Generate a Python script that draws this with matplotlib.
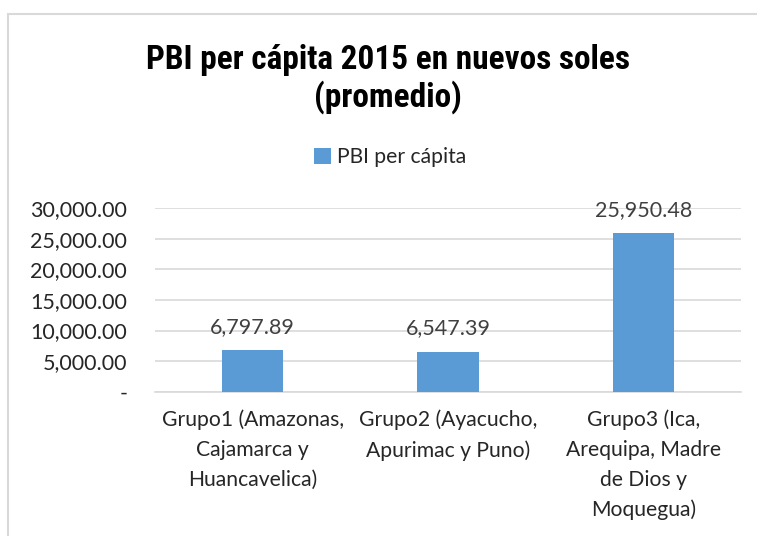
import matplotlib
matplotlib.use("Agg")
import matplotlib.pyplot as plt
from matplotlib.patches import Rectangle
from matplotlib.ticker import FuncFormatter
from matplotlib import font_manager

categories = ["Grupo1 (Amazonas,\nCajamarca y\nHuancavelica)",
              "Grupo2 (Ayacucho,\nApurimac y Puno)",
              "Grupo3 (Ica,\nArequipa, Madre\nde Dios y\nMoquegua)"]
values = [6797.89, 6547.39, 25950.48]
series_name = "PBI per cápita"
title = "PBI per cápita 2015 en nuevos soles\n(promedio)"
yticks = [0, 5000, 10000, 15000, 20000, 25000, 30000]

W, H = 757, 536
fig = plt.figure(figsize=(W / 100, H / 100), dpi=100)
fig.patch.set_facecolor("white")
renderer = fig.canvas.get_renderer()

# pick the narrowest available bold sans for the (condensed-looking) title
names = {f.name for f in font_manager.fontManager.ttflist}
candidates = [("Liberation Sans Narrow", "normal"), ("Roboto Condensed", "normal"),
              ("DejaVu Sans", "condensed"), ("Roboto", "normal"),
              ("Liberation Sans", "normal")]
target_w = 483.0
best = None
for fam, stretch in candidates:
    if fam not in names:
        continue
    t = fig.text(0, 0, title.split("\n")[0], fontfamily=fam, fontstretch=stretch,
                 fontweight="bold", fontsize=20)
    w = t.get_window_extent(renderer).width
    t.remove()
    size = 20 * target_w / w
    if best is None or size > best[2]:
        best = (fam, stretch, size)
title_fam, title_stretch, title_size = best
title_size = min(title_size, 25)

body = "Lato"
grid_c = "#D9D9D9"

ax = fig.add_axes([155 / W, 1 - 391.7 / H, (741 - 155) / W, (391.7 - 208.3) / H])
x = list(range(len(categories)))
bars = ax.bar(x, values, width=0.315, color="#5B9BD5", label=series_name, zorder=3)
ax.set_xlim(-0.5, len(categories) - 0.5)
ax.set_ylim(0, 30000)
ax.set_yticks(yticks)
ax.yaxis.set_major_formatter(FuncFormatter(lambda v, p: "-" if v == 0 else f"{v:,.2f}"))
ax.set_xticks(x)
ax.set_xticklabels(categories, fontfamily=body, fontsize=15.2, color="#262626",
                   linespacing=1.6)
for lab in ax.get_yticklabels():
    lab.set_fontfamily(body)
    lab.set_fontsize(15.5)
    lab.set_color("#262626")
ax.tick_params(axis="both", length=0)
ax.tick_params(axis="y", pad=20)
ax.tick_params(axis="x", pad=13)
ax.grid(axis="y", color=grid_c, linewidth=1.2, zorder=0)
for s in ["top", "right", "left"]:
    ax.spines[s].set_visible(False)
ax.spines["bottom"].set_color(grid_c)
ax.spines["bottom"].set_linewidth(1.2)

for b, v in zip(bars, values):
    ax.annotate(f"{v:,.2f}", (b.get_x() + b.get_width() / 2, v),
                xytext=(0, 9.5), textcoords="offset points",
                ha="center", va="bottom", fontfamily=body, fontsize=15.5, color="#404040")

fig.text(388 / W, 1 - 107 / H, title, ha="center", va="baseline",
         fontfamily=title_fam, fontstretch=title_stretch, fontweight="bold",
         fontsize=title_size, linespacing=1.17, color="black")

leg = fig.legend(handles=[bars], labels=[series_name], loc="center",
                 bbox_to_anchor=(390 / W, 1 - 157 / H), frameon=False,
                 prop={"family": body, "size": 15.2}, handlelength=0.8,
                 handleheight=0.8, handletextpad=0.3)
for t in leg.get_texts():
    t.set_color("#262626")

fig.patches.append(Rectangle((8 / W, -0.1), 1.2, 1.1 - 14 / H, transform=fig.transFigure,
                             fill=False, edgecolor=grid_c, linewidth=1.5))

fig.savefig("out.png", dpi=100, facecolor="white")
